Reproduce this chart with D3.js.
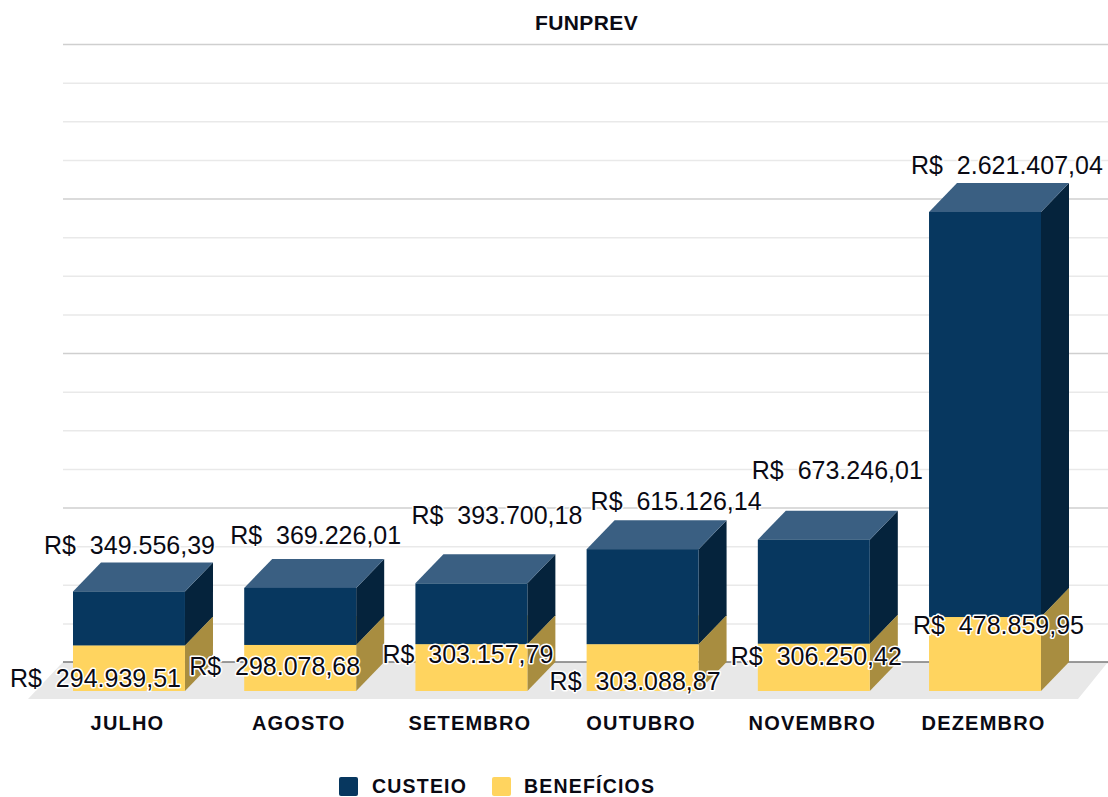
<!DOCTYPE html>
<html lang="pt-BR">
<head>
    <meta charset="utf-8" />
    <script src="https://d3js.org/d3.v7.min.js"></script>
    <title>FUNPREV</title>
    <style>
        html, body { margin: 0; padding: 0; background: #fff; }
        svg { display: block; font-family: "Liberation Sans", Arial, sans-serif; }
        .value { font-size: 25px; fill: #0a0a14; white-space: pre; stroke: #fff; stroke-width: 3px; paint-order: stroke; stroke-linejoin: round; }
        .bold { font-weight: bold; fill: #0a0a14; letter-spacing: 1.2px; }
    </style>
</head>
<body>
    <div id="container"></div>
    <script>
        const months = ["JULHO", "AGOSTO", "SETEMBRO", "OUTUBRO", "NOVEMBRO", "DEZEMBRO"];
        const beneficios = [294939.51, 298078.68, 303157.79, 303088.87, 306250.42, 478859.95];
        const custeio = [349556.39, 369226.01, 393700.18, 615126.14, 673246.01, 2621407.04];
        const seriesNames = ["BENEFÍCIOS", "CUSTEIO"];
        const gridTicks = d3.range(0, 4000001, 250000);

        const w = 1108;
        const h = 797;
        const DX = 28; // depth of the fake 3d
        const DY = 29;

        // label nudges, the originals were placed by hand
        const topNudge = [[-29, -15], [-14, -22], [-4, -37], [4, -17], [-6, -38], [-18, -16]];
        const lowNudge = [[-63, 35], [-55, 23], [-33, 12], [-37, 39], [-27, 15], [-16, 10]];

        const colors = {
            "CUSTEIO": { front: "#07375f", top: "#3a5f82", side: "#05233c" },
            "BENEFÍCIOS": { front: "#ffd45f", top: "#ffd45f", side: "#a88d40" }
        };

        const ptBR = d3.formatLocale({ decimal: ",", thousands: ".", grouping: [3], currency: ["R$  ", ""] });
        const money = ptBR.format("$,.2f");

        const x = d3.scaleBand().domain(months).range([73, 1041]).paddingInner(0.346).paddingOuter(0);
        const y = d3.scaleLinear().domain([0, 4000000]).range([691, 73]);

        const table = months.map((m, i) => ({ month: m, "BENEFÍCIOS": beneficios[i], "CUSTEIO": custeio[i] }));
        const stacked = d3.stack().keys(seriesNames)(table);

        const svg = d3.select("#container").append("svg").attr("width", w).attr("height", h);

        // gridlines on the back wall
        const grid = svg.append("g")
            .attr("transform", "translate(63," + (-DY) + ")")
            .call(d3.axisLeft(y).tickValues(gridTicks).tickSize(-1045).tickFormat(""));
        grid.select(".domain").remove();
        grid.selectAll(".tick line")
            .attr("stroke", (d) => d % 1000000 === 0 ? "#cfcfcf" : "#e9e9e9")
            .attr("stroke-width", 1.5);

        // floor
        const line = d3.line();
        svg.append("path")
            .attr("d", line([[28, y(0) + 8], [1078, y(0) + 8], [1108, y(0) - DY], [63, y(0) - DY]]) + "Z")
            .attr("fill", "#e8e8e8");
        svg.append("line")
            .attr("x1", 63).attr("x2", w)
            .attr("y1", y(0) - DY).attr("y2", y(0) - DY)
            .attr("stroke", "#444").attr("stroke-width", 1.2);

        // bars
        const layers = svg.selectAll("g.layer")
            .data(stacked)
            .enter().append("g")
            .attr("class", "layer");

        layers.each(function(layer) {
            const c = colors[layer.key];
            const g = d3.select(this);
            g.selectAll("path.side")
                .data(layer)
                .enter().append("path")
                .attr("class", "side")
                .attr("fill", c.side)
                .attr("d", (d) => {
                    const r = x(d.data.month) + x.bandwidth();
                    return line([[r, y(d[0])], [r + DX, y(d[0]) - DY], [r + DX, y(d[1]) - DY], [r, y(d[1])]]) + "Z";
                });
            g.selectAll("path.top")
                .data(layer)
                .enter().append("path")
                .attr("class", "top")
                .attr("fill", c.top)
                .attr("d", (d) => {
                    const l = x(d.data.month), r = l + x.bandwidth();
                    return line([[l, y(d[1])], [r, y(d[1])], [r + DX, y(d[1]) - DY], [l + DX, y(d[1]) - DY]]) + "Z";
                });
            g.selectAll("rect")
                .data(layer)
                .enter().append("rect")
                .attr("x", (d) => x(d.data.month))
                .attr("y", (d) => y(d[1]))
                .attr("width", x.bandwidth())
                .attr("height", (d) => y(d[0]) - y(d[1]))
                .attr("fill", c.front);
        });

        // value labels
        const labels = svg.append("g").attr("dominant-baseline", "middle");
        labels.selectAll("text.low")
            .data(table)
            .enter().append("text")
            .attr("class", "value low")
            .attr("x", (d, i) => x(d.month) + lowNudge[i][0])
            .attr("y", (d, i) => y(d["BENEFÍCIOS"]) + lowNudge[i][1])
            .text((d) => money(d["BENEFÍCIOS"]));
        labels.selectAll("text.high")
            .data(table)
            .enter().append("text")
            .attr("class", "value high")
            .attr("x", (d, i) => x(d.month) + topNudge[i][0])
            .attr("y", (d, i) => y(d["BENEFÍCIOS"] + d["CUSTEIO"]) - DY + topNudge[i][1])
            .text((d) => money(d["CUSTEIO"]));

        // month axis
        const xAxis = svg.append("g")
            .attr("transform", "translate(-1.5,708)")
            .call(d3.axisBottom(x).tickSize(0).tickPadding(8));
        xAxis.select(".domain").remove();
        xAxis.selectAll("text")
            .attr("class", "bold")
            .style("font-family", "inherit")
            .style("font-size", "20px");

        svg.append("text")
            .attr("class", "bold")
            .attr("x", 586.5).attr("y", 30)
            .attr("text-anchor", "middle")
            .style("font-size", "21px")
            .style("letter-spacing", "0.4px")
            .text("FUNPREV");

        // legend
        const legendItems = [["CUSTEIO", 339], ["BENEFÍCIOS", 492]];
        const legend = svg.selectAll("g.legend")
            .data(legendItems)
            .enter().append("g")
            .attr("class", "legend")
            .attr("transform", (d) => "translate(" + d[1] + ",777)");
        legend.append("rect")
            .attr("width", 19).attr("height", 19).attr("rx", 2)
            .attr("fill", (d) => colors[d[0]].front);
        legend.append("text")
            .attr("class", "bold")
            .attr("x", (d, i) => i ? 32 : 33).attr("y", 16)
            .style("font-size", "19.5px")
            .text((d) => d[0]);
    </script>
</body>
</html>
